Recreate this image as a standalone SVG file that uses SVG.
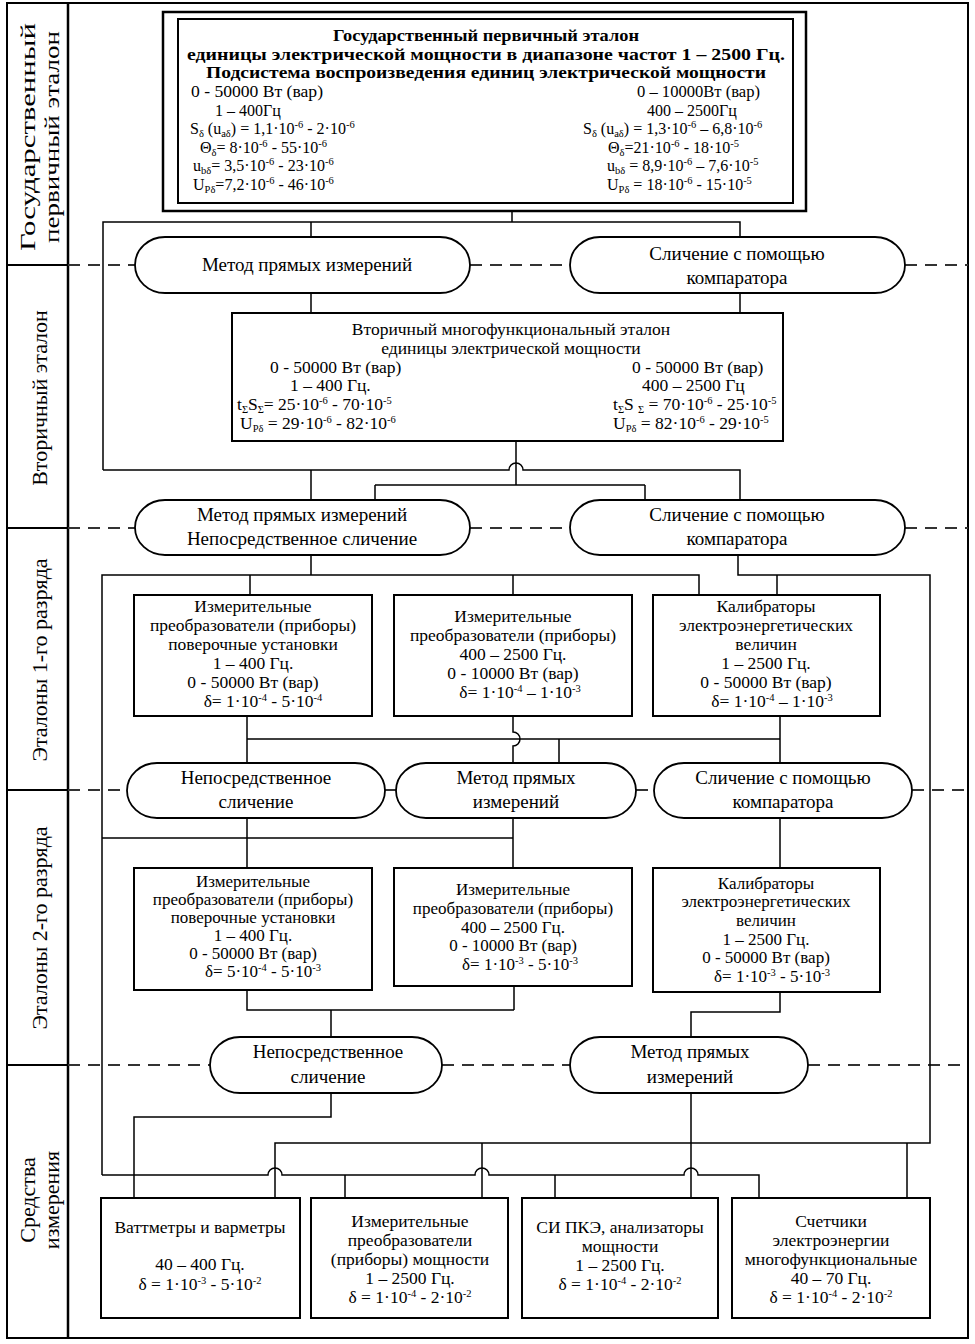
<svg xmlns="http://www.w3.org/2000/svg" width="975" height="1344" viewBox="0 0 975 1344">
<style>
text{font-family:"Liberation Serif","Times New Roman",serif;fill:#000}
.t{font-size:16px}
.m{font-size:17.5px}
.n{font-size:17px}
.p{font-size:19px}
.h{font-size:17px}
.c{text-anchor:middle}
.b{font-weight:bold}
.lbl{font-size:22px;text-anchor:middle}
.s{font-size:10.5px}
.box{fill:#fff;stroke:#000;stroke-width:2}
.pill{fill:#fff;stroke:#000;stroke-width:1.8}
.ln{fill:none;stroke:#000;stroke-width:1.5}
.dash{fill:none;stroke:#333;stroke-width:2.2;stroke-dasharray:12 8}
.frame{fill:none;stroke:#000;stroke-width:2}
</style>
<rect width="975" height="1344" fill="#fff"/>

<g id="frame">
<rect class="frame" x="7" y="3" width="961" height="1335"/>
<line class="frame" x1="68" y1="3" x2="68" y2="1338" style="stroke-width:2.5"/>
<line class="frame" x1="7" y1="265" x2="68" y2="265"/>
<line class="frame" x1="7" y1="528" x2="68" y2="528"/>
<line class="frame" x1="7" y1="790" x2="68" y2="790"/>
<line class="frame" x1="7" y1="1065" x2="68" y2="1065"/>
<path class="dash" d="M68,265H135M470,265H570M905,265H968M68,528H135M470,528H570M905,528H968M68,790H127M385,790H396M636,790H654M912,790H968M68,1065H210M442,1065H570M808,1065H968"/>
</g>

<g id="row-labels">
<text class="lbl" transform="translate(35,137) rotate(-90)" textLength="228" lengthAdjust="spacingAndGlyphs">Государственный</text>
<text class="lbl" transform="translate(59,137) rotate(-90)" textLength="212" lengthAdjust="spacingAndGlyphs">первичный эталон</text>
<text class="lbl" transform="translate(47,398) rotate(-90)">Вторичный эталон</text>
<text class="lbl" transform="translate(47,660) rotate(-90)">Эталоны 1-го разряда</text>
<text class="lbl" transform="translate(47,928) rotate(-90)">Эталоны 2-го разряда</text>
<text class="lbl" transform="translate(35,1200) rotate(-90)">Средства</text>
<text class="lbl" transform="translate(59,1200) rotate(-90)">измерения</text>
</g>

<g id="connectors">
<path class="ln" d="M512,211V222"/>
<path class="ln" d="M103,470V222H740V237M311,222V237"/>
<path class="ln" d="M311,293V313M740,293V313"/>
<path class="ln" d="M516,441V485M375,485H645M375,485V500M645,485V500"/>
<path class="ln" d="M103,470H509A7,7 0 0 1 523,470H740V500M311,470V500"/>
<path class="ln" d="M311,555V575M102,1175V575H699V595M250,575V595M513,575V595"/>
<path class="ln" d="M738,555V575H930V1143H275V1198M777,575V595M482,1143V1198M907,1143V1198"/>
<path class="ln" d="M102,1175H268A7,7 0 0 1 282,1175H475A7,7 0 0 1 489,1175H684A7,7 0 0 1 698,1175H759V1198M345,1175V1198M555,1175V1198"/>
<path class="ln" d="M247,716V763M780,716V763M247,739H780M513,716V732A7,7 0 0 1 513,746V763M559,739V763"/>
<path class="ln" d="M247,818V868M513,818V868M102,838H513M780,818V868"/>
<path class="ln" d="M247,990V1010H514M514,986V1010M331,1010V1037M780,992V1012H691V1037"/>
<path class="ln" d="M331,1093V1117H134V1198M691,1093V1198"/>
</g>

<g id="primary">
<rect class="box" x="163" y="12" width="643" height="199" style="stroke-width:2.5"/>
<rect class="box" x="178" y="19" width="615" height="184"/>
<text class="h b c" x="486" y="41" textLength="306" lengthAdjust="spacingAndGlyphs">Государственный первичный эталон</text>
<text class="h b c" x="486" y="60" textLength="598" lengthAdjust="spacingAndGlyphs">единицы электрической мощности в диапазоне частот 1 – 2500 Гц.</text>
<text class="h b c" x="486" y="78" textLength="560" lengthAdjust="spacingAndGlyphs">Подсистема воспроизведения единиц электрической мощности</text>
<text class="t" x="191" y="97" textLength="132" lengthAdjust="spacingAndGlyphs">0 - 50000 Вт (вар)</text>
<text class="t" x="215" y="116">1 – 400Гц</text>
<text class="t" x="190" y="134">S<tspan class="s" dy="3">δ</tspan><tspan dy="-3"> (u</tspan><tspan class="s" dy="3">aδ</tspan><tspan dy="-3">) = 1,1·10</tspan><tspan class="s" dy="-6">-6</tspan><tspan dy="6"> - 2·10</tspan><tspan class="s" dy="-6">-6</tspan></text>
<text class="t" x="200" y="153">Θ<tspan class="s" dy="3">δ</tspan><tspan dy="-3">= 8·10</tspan><tspan class="s" dy="-6">-6</tspan><tspan dy="6"> - 55·10</tspan><tspan class="s" dy="-6">-6</tspan></text>
<text class="t" x="193" y="171">u<tspan class="s" dy="3">bδ</tspan><tspan dy="-3">= 3,5·10</tspan><tspan class="s" dy="-6">-6</tspan><tspan dy="6"> - 23·10</tspan><tspan class="s" dy="-6">-6</tspan></text>
<text class="t" x="193" y="190">U<tspan class="s" dy="3">Pδ</tspan><tspan dy="-3">=7,2·10</tspan><tspan class="s" dy="-6">-6</tspan><tspan dy="6"> - 46·10</tspan><tspan class="s" dy="-6">-6</tspan></text>
<text class="t" x="637" y="97" textLength="123" lengthAdjust="spacingAndGlyphs">0 – 10000Вт (вар)</text>
<text class="t" x="647" y="116">400 – 2500Гц</text>
<text class="t" x="583" y="134">S<tspan class="s" dy="3">δ</tspan><tspan dy="-3"> (u</tspan><tspan class="s" dy="3">aδ</tspan><tspan dy="-3">) = 1,3·10</tspan><tspan class="s" dy="-6">-6</tspan><tspan dy="6"> – 6,8·10</tspan><tspan class="s" dy="-6">-6</tspan></text>
<text class="t" x="608" y="153">Θ<tspan class="s" dy="3">δ</tspan><tspan dy="-3">=21·10</tspan><tspan class="s" dy="-6">-6</tspan><tspan dy="6"> - 18·10</tspan><tspan class="s" dy="-6">-5</tspan></text>
<text class="t" x="607" y="171">u<tspan class="s" dy="3">bδ</tspan><tspan dy="-3"> = 8,9·10</tspan><tspan class="s" dy="-6">-6</tspan><tspan dy="6"> – 7,6·10</tspan><tspan class="s" dy="-6">-5</tspan></text>
<text class="t" x="607" y="190">U<tspan class="s" dy="3">Pδ</tspan><tspan dy="-3"> = 18·10</tspan><tspan class="s" dy="-6">-6</tspan><tspan dy="6"> - 15·10</tspan><tspan class="s" dy="-6">-5</tspan></text>
</g>

<g id="pill-direct-0">
<rect class="pill" x="135" y="237" width="335" height="56" rx="30" ry="28"/>
<text class="p c" x="307" y="271">Метод прямых измерений</text>
</g>
<g id="pill-comp-0">
<rect class="pill" x="570" y="237" width="335" height="56" rx="30" ry="28"/>
<text class="p c" x="737" y="260">Сличение с помощью</text>
<text class="p c" x="737" y="284">компаратора</text>
</g>

<g id="secondary">
<rect class="box" x="232" y="313" width="551" height="128"/>
<text class="m c" x="511" y="335">Вторичный многофункциональный эталон</text>
<text class="m c" x="511" y="354">единицы электрической мощности</text>
<text class="m" x="270" y="373">0 - 50000 Вт (вар)</text>
<text class="m" x="290" y="391">1 – 400 Гц.</text>
<text class="m" x="237" y="410">t<tspan class="s" dy="3">Σ</tspan><tspan dy="-3">S</tspan><tspan class="s" dy="3">Σ</tspan><tspan dy="-3">= 25·10</tspan><tspan class="s" dy="-6">-6</tspan><tspan dy="6"> - 70·10</tspan><tspan class="s" dy="-6">-5</tspan></text>
<text class="m" x="240" y="429">U<tspan class="s" dy="3">Pδ</tspan><tspan dy="-3"> = 29·10</tspan><tspan class="s" dy="-6">-6</tspan><tspan dy="6"> - 82·10</tspan><tspan class="s" dy="-6">-6</tspan></text>
<text class="m" x="632" y="373">0 - 50000 Вт (вар)</text>
<text class="m" x="642" y="391">400 – 2500 Гц</text>
<text class="m" x="613" y="410">t<tspan class="s" dy="3">Σ</tspan><tspan dy="-3">S </tspan><tspan class="s" dy="3">Σ</tspan><tspan dy="-3"> = 70·10</tspan><tspan class="s" dy="-6">-6</tspan><tspan dy="6"> - 25·10</tspan><tspan class="s" dy="-6">-5</tspan></text>
<text class="m" x="613" y="429">U<tspan class="s" dy="3">Pδ</tspan><tspan dy="-3"> = 82·10</tspan><tspan class="s" dy="-6">-6</tspan><tspan dy="6"> - 29·10</tspan><tspan class="s" dy="-6">-5</tspan></text>
</g>

<g id="pill-direct-1">
<rect class="pill" x="135" y="500" width="335" height="55" rx="30" ry="27.5"/>
<text class="p c" x="302" y="521">Метод прямых измерений</text>
<text class="p c" x="302" y="545">Непосредственное сличение</text>
</g>
<g id="pill-comp-1">
<rect class="pill" x="570" y="500" width="335" height="55" rx="30" ry="27.5"/>
<text class="p c" x="737" y="521">Сличение с помощью</text>
<text class="p c" x="737" y="545">компаратора</text>
</g>

<g id="r1-transducers">
<rect class="box" x="134" y="595" width="238" height="121"/>
<text class="m c" x="253" y="612">Измерительные</text>
<text class="m c" x="253" y="631">преобразователи (приборы)</text>
<text class="m c" x="253" y="650">поверочные установки</text>
<text class="m c" x="253" y="669">1 – 400 Гц.</text>
<text class="m c" x="253" y="688">0 - 50000 Вт (вар)</text>
<text class="m c" x="263" y="707">δ= 1·10<tspan class="s" dy="-6">-4</tspan><tspan dy="6"> - 5·10</tspan><tspan class="s" dy="-6">-4</tspan></text>
</g>
<g id="r1-transducers-hf">
<rect class="box" x="394" y="595" width="238" height="121"/>
<text class="m c" x="513" y="622">Измерительные</text>
<text class="m c" x="513" y="641">преобразователи (приборы)</text>
<text class="m c" x="513" y="660">400 – 2500 Гц.</text>
<text class="m c" x="513" y="679">0 - 10000 Вт (вар)</text>
<text class="m c" x="520" y="698">δ= 1·10<tspan class="s" dy="-6">-4</tspan><tspan dy="6"> – 1·10</tspan><tspan class="s" dy="-6">-3</tspan></text>
</g>
<g id="r1-calibrators">
<rect class="box" x="653" y="595" width="227" height="121"/>
<text class="m c" x="766" y="612">Калибраторы</text>
<text class="m c" x="766" y="631">электроэнергетических</text>
<text class="m c" x="766" y="650">величин</text>
<text class="m c" x="766" y="669">1 – 2500 Гц.</text>
<text class="m c" x="766" y="688">0 - 50000 Вт (вар)</text>
<text class="m c" x="772" y="707">δ= 1·10<tspan class="s" dy="-6">-4</tspan><tspan dy="6"> – 1·10</tspan><tspan class="s" dy="-6">-3</tspan></text>
</g>

<g id="pill-direct-2">
<rect class="pill" x="127" y="763" width="258" height="55" rx="30" ry="27.5"/>
<text class="p c" x="256" y="784">Непосредственное</text>
<text class="p c" x="256" y="808">сличение</text>
</g>
<g id="pill-method-2">
<rect class="pill" x="396" y="763" width="240" height="55" rx="30" ry="27.5"/>
<text class="p c" x="516" y="784">Метод прямых</text>
<text class="p c" x="516" y="808">измерений</text>
</g>
<g id="pill-comp-2">
<rect class="pill" x="654" y="763" width="258" height="55" rx="30" ry="27.5"/>
<text class="p c" x="783" y="784">Сличение с помощью</text>
<text class="p c" x="783" y="808">компаратора</text>
</g>

<g id="r2-transducers">
<rect class="box" x="134" y="868" width="238" height="122"/>
<text class="n c" x="253" y="887">Измерительные</text>
<text class="n c" x="253" y="905">преобразователи (приборы)</text>
<text class="n c" x="253" y="923">поверочные установки</text>
<text class="n c" x="253" y="941">1 – 400 Гц.</text>
<text class="n c" x="253" y="959">0 - 50000 Вт (вар)</text>
<text class="n c" x="263" y="977">δ= 5·10<tspan class="s" dy="-6">-4</tspan><tspan dy="6"> - 5·10</tspan><tspan class="s" dy="-6">-3</tspan></text>
</g>
<g id="r2-transducers-hf">
<rect class="box" x="394" y="868" width="238" height="118"/>
<text class="n c" x="513" y="895">Измерительные</text>
<text class="n c" x="513" y="914">преобразователи (приборы)</text>
<text class="n c" x="513" y="933">400 – 2500 Гц.</text>
<text class="n c" x="513" y="951">0 - 10000 Вт (вар)</text>
<text class="n c" x="520" y="970">δ= 1·10<tspan class="s" dy="-6">-3</tspan><tspan dy="6"> - 5·10</tspan><tspan class="s" dy="-6">-3</tspan></text>
</g>
<g id="r2-calibrators">
<rect class="box" x="653" y="868" width="227" height="124"/>
<text class="n c" x="766" y="889">Калибраторы</text>
<text class="n c" x="766" y="907">электроэнергетических</text>
<text class="n c" x="766" y="926">величин</text>
<text class="n c" x="766" y="945">1 – 2500 Гц.</text>
<text class="n c" x="766" y="963">0 - 50000 Вт (вар)</text>
<text class="n c" x="772" y="982">δ= 1·10<tspan class="s" dy="-6">-3</tspan><tspan dy="6"> - 5·10</tspan><tspan class="s" dy="-6">-3</tspan></text>
</g>

<g id="pill-direct-3">
<rect class="pill" x="210" y="1037" width="232" height="56" rx="30" ry="28"/>
<text class="p c" x="328" y="1058">Непосредственное</text>
<text class="p c" x="328" y="1083">сличение</text>
</g>
<g id="pill-method-3">
<rect class="pill" x="570" y="1037" width="238" height="56" rx="30" ry="28"/>
<text class="p c" x="690" y="1058">Метод прямых</text>
<text class="p c" x="690" y="1083">измерений</text>
</g>

<g id="wattmeters">
<rect class="box" x="101" y="1198" width="199" height="120"/>
<text class="m c" x="200" y="1233">Ваттметры и варметры</text>
<text class="m c" x="200" y="1270">40 – 400 Гц.</text>
<text class="m c" x="200" y="1290">δ = 1·10<tspan class="s" dy="-6">-3</tspan><tspan dy="6"> - 5·10</tspan><tspan class="s" dy="-6">-2</tspan></text>
</g>
<g id="power-transducers">
<rect class="box" x="311" y="1198" width="197" height="120"/>
<text class="m c" x="410" y="1227">Измерительные</text>
<text class="m c" x="410" y="1246">преобразователи</text>
<text class="m c" x="410" y="1265">(приборы) мощности</text>
<text class="m c" x="410" y="1284">1 – 2500 Гц.</text>
<text class="m c" x="410" y="1303">δ = 1·10<tspan class="s" dy="-6">-4</tspan><tspan dy="6"> - 2·10</tspan><tspan class="s" dy="-6">-2</tspan></text>
</g>
<g id="pq-analyzers">
<rect class="box" x="522" y="1198" width="196" height="120"/>
<text class="m c" x="620" y="1233">СИ ПКЭ, анализаторы</text>
<text class="m c" x="620" y="1252">мощности</text>
<text class="m c" x="620" y="1271">1 – 2500 Гц.</text>
<text class="m c" x="620" y="1290">δ = 1·10<tspan class="s" dy="-6">-4</tspan><tspan dy="6"> - 2·10</tspan><tspan class="s" dy="-6">-2</tspan></text>
</g>
<g id="energy-meters">
<rect class="box" x="732" y="1198" width="198" height="120"/>
<text class="m c" x="831" y="1227">Счетчики</text>
<text class="m c" x="831" y="1246">электроэнергии</text>
<text class="m c" x="831" y="1265">многофункциональные</text>
<text class="m c" x="831" y="1284">40 – 70 Гц.</text>
<text class="m c" x="831" y="1303">δ = 1·10<tspan class="s" dy="-6">-4</tspan><tspan dy="6"> - 2·10</tspan><tspan class="s" dy="-6">-2</tspan></text>
</g>
</svg>
